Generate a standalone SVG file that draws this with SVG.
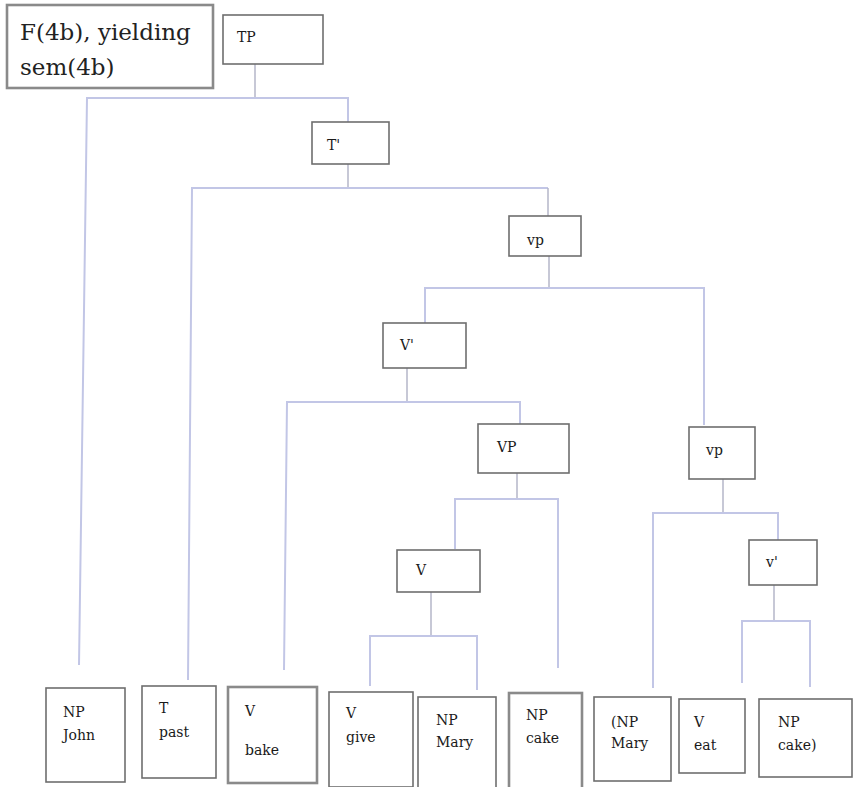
<svg xmlns="http://www.w3.org/2000/svg" width="855" height="787" viewBox="0 0 855 787">
  <style>
    .box { fill: #ffffff; stroke: #6e6e6e; stroke-width: 1.6; }
    .thick { stroke-width: 2.6; stroke: #8a8a8a; }
    .edge { fill: none; stroke: #c2c6e6; stroke-width: 2; }
    .stem { fill: none; stroke: #b4b6c8; stroke-width: 1.5; }
    .lbl { font-family: "DejaVu Serif", serif; font-size: 14px; fill: #1a1a1a; }
    .title { font-family: "DejaVu Serif", serif; font-size: 23px; fill: #222222; }
  </style>
  <rect width="855" height="787" fill="#ffffff"/>

  <!-- connectors -->
  <g id="connectors">
    <!-- TP -->
    <path class="stem" d="M255 64 V98"/>
    <path class="edge" d="M79 665 L87 98 H348 V122"/>
    <!-- T' -->
    <path class="stem" d="M348 164 V188"/>
    <path class="edge" d="M188 680 L192 188 H548"/>
    <path class="stem" d="M548 188 V216"/>
    <!-- vp -->
    <path class="stem" d="M549 256 V288"/>
    <path class="edge" d="M425 323 V288 H704 V425"/>
    <!-- V' -->
    <path class="stem" d="M407 368 V402"/>
    <path class="edge" d="M284 670 L287 402 H520 V424"/>
    <!-- VP -->
    <path class="stem" d="M517 473 V499"/>
    <path class="edge" d="M455 549 V499 H558 V668"/>
    <!-- second vp -->
    <path class="stem" d="M723 479 V513"/>
    <path class="edge" d="M653 688 V513 H778 V540"/>
    <!-- v' -->
    <path class="stem" d="M774 585 V621"/>
    <path class="edge" d="M742 683 V621 H810 V687"/>
    <!-- V -->
    <path class="stem" d="M431 592 V636"/>
    <path class="edge" d="M370 686 V636 H477 V690"/>
  </g>

  <g id="caption">
    <rect class="box thick" x="7" y="5" width="206" height="83"/>
    <text class="title" x="20" y="40">F(4b), yielding</text>
    <text class="title" x="20" y="75">sem(4b)</text>
  </g>

  <g id="tp">
    <rect class="box" x="223" y="15" width="100" height="49"/>
    <text class="lbl" x="237" y="42">TP</text>
  </g>

  <g id="t-bar">
    <rect class="box" x="312" y="122" width="77" height="42"/>
    <text class="lbl" x="327" y="150">T'</text>
  </g>

  <g id="vp-upper">
    <rect class="box" x="509" y="216" width="72" height="40"/>
    <text class="lbl" x="527" y="245">vp</text>
  </g>

  <g id="v-bar">
    <rect class="box" x="383" y="323" width="83" height="45"/>
    <text class="lbl" x="400" y="350">V'</text>
  </g>

  <g id="vp-inner">
    <rect class="box" x="478" y="424" width="91" height="49"/>
    <text class="lbl" x="497" y="452">VP</text>
  </g>

  <g id="vp-lower">
    <rect class="box" x="689" y="427" width="66" height="52"/>
    <text class="lbl" x="706" y="455">vp</text>
  </g>

  <g id="v-small-bar">
    <rect class="box" x="749" y="540" width="68" height="45"/>
    <text class="lbl" x="766" y="567">v'</text>
  </g>

  <g id="v-give-head">
    <rect class="box" x="397" y="550" width="83" height="42"/>
    <text class="lbl" x="416" y="575">V</text>
  </g>

  <g id="np-john">
    <rect class="box" x="46" y="688" width="79" height="94"/>
    <text class="lbl" x="63" y="717">NP</text>
    <text class="lbl" x="63" y="740">John</text>
  </g>

  <g id="t-past">
    <rect class="box" x="142" y="686" width="74" height="92"/>
    <text class="lbl" x="159" y="713">T</text>
    <text class="lbl" x="159" y="737">past</text>
  </g>

  <g id="v-bake">
    <rect class="box thick" x="228" y="687" width="89" height="96"/>
    <text class="lbl" x="245" y="716">V</text>
    <text class="lbl" x="245" y="755">bake</text>
  </g>

  <g id="v-give">
    <rect class="box" x="329" y="692" width="84" height="95"/>
    <text class="lbl" x="346" y="718">V</text>
    <text class="lbl" x="346" y="742">give</text>
  </g>

  <g id="np-mary">
    <rect class="box" x="418" y="697" width="78" height="92"/>
    <text class="lbl" x="436" y="725">NP</text>
    <text class="lbl" x="436" y="747">Mary</text>
  </g>

  <g id="np-cake">
    <rect class="box thick" x="509" y="693" width="73" height="96"/>
    <text class="lbl" x="526" y="720">NP</text>
    <text class="lbl" x="526" y="743">cake</text>
  </g>

  <g id="np-mary-paren">
    <rect class="box" x="594" y="697" width="77" height="84"/>
    <text class="lbl" x="611" y="727">(NP</text>
    <text class="lbl" x="611" y="748">Mary</text>
  </g>

  <g id="v-eat">
    <rect class="box" x="679" y="699" width="66" height="74"/>
    <text class="lbl" x="694" y="727">V</text>
    <text class="lbl" x="694" y="750">eat</text>
  </g>

  <g id="np-cake-paren">
    <rect class="box" x="759" y="699" width="93" height="78"/>
    <text class="lbl" x="778" y="727">NP</text>
    <text class="lbl" x="778" y="750">cake)</text>
  </g>
</svg>
